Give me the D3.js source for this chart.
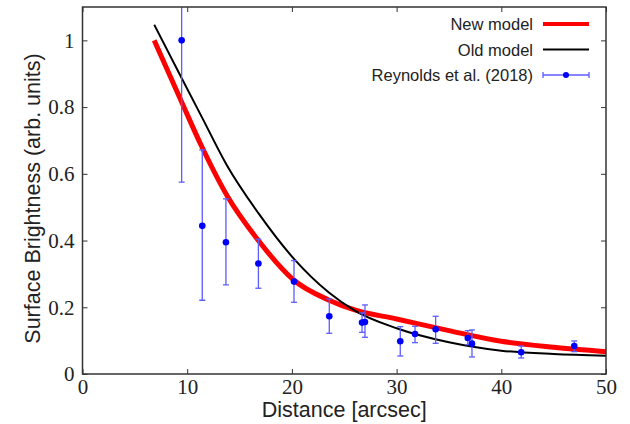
<!DOCTYPE html>
<html>
<head>
<meta charset="utf-8">
<script src="https://cdn.jsdelivr.net/npm/d3@7"></script>
<style>
  body { margin: 0; background: #fff; }
  .tick text { font-family: "Liberation Serif", "Times New Roman", serif; font-size: 21px; fill: #222; }
  .axis path { display: none; }
  .axis line { stroke: #333; stroke-width: 1; }
  .title { font-family: "Liberation Sans", Arial, sans-serif; font-size: 21.5px; fill: #222; }
  .legend { font-family: "Liberation Sans", Arial, sans-serif; font-size: 16.5px; fill: #222; }
</style>
</head>
<body>
<svg id="chart" width="630" height="424"></svg>
<script>
// observed points (Reynolds et al. 2018)
const obsX    = [9.47, 11.44, 13.7, 16.8, 20.2, 23.57, 26.7, 26.98, 30.35, 31.76, 33.73, 36.8, 37.2, 41.9, 46.97];
const obsY    = [1.0, 0.444, 0.395, 0.331, 0.277, 0.173, 0.154, 0.156, 0.098, 0.120, 0.134, 0.108, 0.091, 0.065, 0.084];
const obsLow  = [0.575, 0.221, 0.267, 0.257, 0.215, 0.122, 0.125, 0.110, 0.054, 0.094, 0.092, 0.088, 0.051, 0.048, 0.067];
const obsHigh = [1.425, 0.672, 0.525, 0.404, 0.340, 0.225, 0.183, 0.207, 0.142, 0.143, 0.173, 0.130, 0.132, 0.084, 0.099];

// model curves
const modelX   = [6.85, 9.5, 11.4, 13.8, 16.8, 20.2, 23.5, 26, 30, 35, 40, 45, 50];
const newModel = [1.0, 0.813, 0.681, 0.535, 0.40, 0.281, 0.222, 0.192, 0.165, 0.130, 0.098, 0.080, 0.067];
const oldModel = [1.047, 0.885, 0.770, 0.625, 0.482, 0.345, 0.245, 0.190, 0.137, 0.095, 0.070, 0.060, 0.055];

const xTicks = [0, 10, 20, 30, 40, 50];
const yTicks = [0, 0.2, 0.4, 0.6, 0.8, 1];

const legendNames = ["New model", "Old model", "Reynolds et al. (2018)"];

const margin = { left: 82.5, right: 24, top: 7, bottom: 50 };
const width = 630 - margin.left - margin.right;
const height = 424 - margin.top - margin.bottom;

const svg = d3.select('#chart');
const g = svg.append('g').attr('transform', `translate(${margin.left},${margin.top})`);

const x = d3.scaleLinear().domain([0, 50]).range([0, width]);
const y = d3.scaleLinear().domain([0, 1.1]).range([height, 0]);

svg.append('defs').append('clipPath').attr('id', 'clip')
  .append('rect').attr('width', width).attr('height', height);

// axes, ticks pointing inward
g.append('g').attr('class', 'axis').attr('transform', `translate(0,${height})`)
  .call(d3.axisBottom(x).tickValues(xTicks).tickSize(-5).tickPadding(5));
g.append('g').attr('class', 'axis')
  .call(d3.axisLeft(y).tickValues(yTicks).tickFormat(d => d).tickSize(-5).tickPadding(8));
g.append('g').attr('class', 'axis')
  .call(d3.axisTop(x).tickValues(xTicks).tickSize(-5).tickFormat(''));
g.append('g').attr('class', 'axis').attr('transform', `translate(${width},0)`)
  .call(d3.axisRight(y).tickValues(yTicks).tickSize(-5).tickFormat(''));

const plot = g.append('g').attr('clip-path', 'url(#clip)');

const line = d3.line()
  .x((d, i) => x(modelX[i]))
  .y(d => y(d))
  .curve(d3.curveMonotoneX);

plot.append('path').datum(newModel)
  .attr('d', line).attr('fill', 'none')
  .attr('stroke', '#ff0000').attr('stroke-width', 5);

plot.append('path').datum(oldModel)
  .attr('d', line).attr('fill', 'none')
  .attr('stroke', '#000').attr('stroke-width', 2);

// error bars
const pts = obsX.map((v, i) => ({ x: v, y: obsY[i], lo: obsLow[i], hi: obsHigh[i] }));
const bars = plot.selectAll('.err').data(pts).enter().append('g').attr('class', 'err')
  .attr('stroke', '#5c5cff').attr('stroke-width', 1.3);
bars.append('line')
  .attr('x1', d => x(d.x)).attr('x2', d => x(d.x))
  .attr('y1', d => y(d.lo)).attr('y2', d => y(d.hi));
bars.append('line')
  .attr('x1', d => x(d.x) - 3).attr('x2', d => x(d.x) + 3)
  .attr('y1', d => y(d.lo)).attr('y2', d => y(d.lo));
bars.append('line')
  .attr('x1', d => x(d.x) - 3).attr('x2', d => x(d.x) + 3)
  .attr('y1', d => y(d.hi)).attr('y2', d => y(d.hi));

plot.selectAll('.pt').data(pts).enter().append('circle')
  .attr('cx', d => x(d.x)).attr('cy', d => y(d.y))
  .attr('r', 3.3).attr('fill', '#0000ff');

// frame
g.append('rect').attr('width', width).attr('height', height)
  .attr('fill', 'none').attr('stroke', '#333').attr('stroke-width', 1.5);

// titles
svg.append('text').attr('class', 'title')
  .attr('x', margin.left + width / 2).attr('y', 417)
  .attr('text-anchor', 'middle').text('Distance [arcsec]');
svg.append('text').attr('class', 'title')
  .attr('transform', `translate(40,${margin.top + height / 2 + 8}) rotate(-90)`)
  .attr('text-anchor', 'middle').text('Surface Brightness (arb. units)');

// legend
const leg = svg.append('g').attr('transform', 'translate(533,24)');
legendNames.forEach((name, i) => {
  const row = leg.append('g').attr('transform', `translate(0,${i * 25.5})`);
  row.append('text').attr('class', 'legend').attr('text-anchor', 'end')
    .attr('y', 6).text(name);
  if (i === 0) {
    row.append('line').attr('x1', 10).attr('x2', 56).attr('stroke', '#ff0000').attr('stroke-width', 4);
  } else if (i === 1) {
    row.append('line').attr('x1', 10).attr('x2', 56).attr('stroke', '#000').attr('stroke-width', 2);
  } else {
    const e = row.append('g').attr('stroke', '#5c5cff').attr('stroke-width', 1.3);
    e.append('line').attr('x1', 10).attr('x2', 56);
    e.append('line').attr('x1', 10).attr('x2', 10).attr('y1', -3).attr('y2', 3);
    e.append('line').attr('x1', 56).attr('x2', 56).attr('y1', -3).attr('y2', 3);
    row.append('circle').attr('cx', 33).attr('r', 3).attr('fill', '#0000ff');
  }
});
</script>
</body>
</html>
